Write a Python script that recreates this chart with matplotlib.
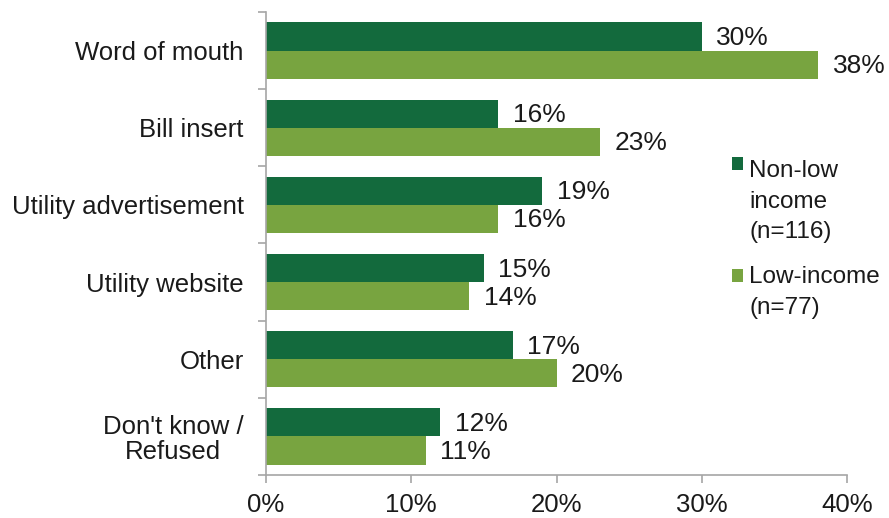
import numpy as np
import matplotlib.pyplot as plt
from matplotlib.patches import Patch, Rectangle
from matplotlib.legend_handler import HandlerBase
from matplotlib.ticker import FixedLocator, PercentFormatter

plt.rcParams['font.family'] = ['Liberation Sans', 'DejaVu Sans']

categories = ["Word of mouth", "Bill insert", "Utility advertisement",
              "Utility website", "Other", "Don't know /\nRefused"]
non_low_income = [30, 16, 19, 15, 17, 12]
low_income = [38, 23, 16, 14, 20, 11]
series_labels = ["Non-low\nincome\n(n=116)", "Low-income\n(n=77)"]
x_ticks = [0, 10, 20, 30, 40]

dark_green = '#136a3d'
light_green = '#78a440'
axis_grey = '#a6a6a6'
text_color = '#1a1a1a'
fs = 18.5
legend_fs = 17.5
legend_linespacing = 1.5


class TopLineSquare(HandlerBase):
    """Legend square placed next to the first line of a multi-line label."""

    def __init__(self, lines_above):
        super().__init__()
        self.lines_above = lines_above

    def create_artists(self, legend, orig_handle, xdescent, ydescent,
                       width, height, fontsize, trans):
        shift = (self.lines_above * legend_linespacing * 1.15 - 0.17) * fontsize
        sq = Rectangle((-xdescent, -ydescent + shift), width, height,
                       facecolor=orig_handle.get_facecolor(),
                       edgecolor='none', transform=trans)
        return [sq]


fig = plt.figure(figsize=(8.89, 5.18), dpi=100)
ax = fig.add_axes([0.299, 0.083, 0.654, 0.894])

n = len(categories)
y = np.arange(n)
h = 0.365

bars_dark = ax.barh(y - h / 2, non_low_income, height=h, color=dark_green)
bars_light = ax.barh(y + h / 2, low_income, height=h, color=light_green)

# value labels just past the end of each bar
for bars, vals in ((bars_dark, non_low_income), (bars_light, low_income)):
    for b, v in zip(bars, vals):
        ax.text(v + 1.0, b.get_y() + b.get_height() / 2 + 0.02, f"{v}%",
                va='center', ha='left', fontsize=19, color=text_color)

ax.set_ylim(n - 0.5, -0.5)
ax.set_xlim(0, 40)
ax.set_xticks(x_ticks)
ax.xaxis.set_major_formatter(PercentFormatter(decimals=0))

ax.set_yticks(y)
ax.set_yticklabels(categories, fontsize=fs, linespacing=1.05,
                   multialignment='center', color=text_color)
ax.yaxis.set_minor_locator(FixedLocator(np.arange(-0.5, n, 1)))
ax.tick_params(axis='y', which='major', length=0, pad=16)
ax.tick_params(axis='y', which='minor', length=6, color=axis_grey, width=1.2)
ax.tick_params(axis='x', length=6, color=axis_grey, width=1.2,
               labelsize=fs, labelcolor=text_color, pad=7)

for side in ('top', 'right'):
    ax.spines[side].set_visible(False)
for side in ('left', 'bottom'):
    ax.spines[side].set_color(axis_grey)
    ax.spines[side].set_linewidth(1.2)

h_dark = Patch(facecolor=dark_green)
h_light = Patch(facecolor=light_green)
leg = ax.legend([h_dark, h_light], series_labels,
                handler_map={h_dark: TopLineSquare(1.0),
                             h_light: TopLineSquare(0.5)},
                loc='upper left', bbox_to_anchor=(0.802, 0.68),
                frameon=False, fontsize=legend_fs, borderpad=0,
                borderaxespad=0, handlelength=0.45, handleheight=0.45,
                handletextpad=0.25, labelspacing=0.95)
for t in leg.get_texts():
    t.set_linespacing(legend_linespacing)
    t.set_color(text_color)

plt.savefig("out.png", dpi=100)
